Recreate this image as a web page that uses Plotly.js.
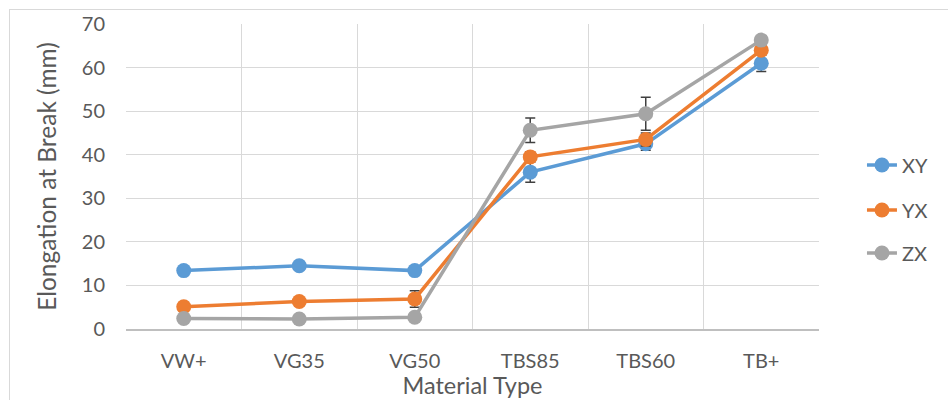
<!DOCTYPE html>
<html>
<head>
<meta charset="utf-8">
<script src="https://cdn.plot.ly/plotly-3.0.1.min.js"></script>
<style>
html,body{margin:0;padding:0;background:#fff;}
#wrap{position:relative;width:948px;height:400px;overflow:hidden;}
#chart{position:absolute;left:0;top:0;width:948px;height:400px;}
#frame{position:absolute;left:9px;top:9px;width:1000px;height:1000px;border:1px solid #d9d9d9;pointer-events:none;}
</style>
</head>
<body>
<div id="wrap"><div id="chart"></div><div id="frame"></div></div>
<script>
const categories = ["VW+", "VG35", "VG50", "TBS85", "TBS60", "TB+"];
const seriesNames = ["XY", "YX", "ZX"];
const xyValues = [13.4, 14.5, 13.4, 36.0, 42.5, 61.0];
const yxValues = [5.1, 6.3, 6.9, 39.5, 43.5, 64.0];
const zxValues = [2.4, 2.3, 2.7, 45.6, 49.4, 66.3];
const xyErrors = [0.8, 0.7, 0.9, 2.3, 1.5, 1.9];
const yxErrors = [1.0, 0.9, 1.9, 1.2, 1.5, 1.2];
const zxErrors = [0.5, 0.6, 0.8, 2.8, 3.8, 1.0];
const colors = ["#5B9BD5", "#ED7D31", "#A5A5A5"];

const vals = [xyValues, yxValues, zxValues];
const errs = [xyErrors, yxErrors, zxErrors];
const legendIds = ["legend", "legend2", "legend3"];

const traces = seriesNames.map((n, i) => ({
  type: "scatter",
  mode: "lines+markers",
  name: n,
  x: categories,
  y: vals[i],
  legend: legendIds[i],
  line: {color: colors[i], width: 3.5},
  marker: {color: colors[i], size: 15},
  error_y: {type: "data", array: errs[i], visible: true, color: "#404040", thickness: 1.5, width: 5}
}));

const textColor = "#595959";
const fontFam = "Lato, 'Open Sans', sans-serif";
const legendBase = {
  x: 1.062, xanchor: "left", yanchor: "middle",
  font: {family: fontFam, size: 20, color: textColor},
  bgcolor: "rgba(0,0,0,0)", borderwidth: 0
};
const yToPaper = px => (329 - px) / 305;

const layout = {
  width: 948, height: 400,
  margin: {l: 126, r: 129, t: 24, b: 71},
  paper_bgcolor: "rgba(0,0,0,0)",
  plot_bgcolor: "#ffffff",
  font: {family: fontFam, color: textColor},
  showlegend: true,
  legend: Object.assign({}, legendBase, {y: yToPaper(165)}),
  legend2: Object.assign({}, legendBase, {y: yToPaper(210)}),
  legend3: Object.assign({}, legendBase, {y: yToPaper(253)}),
  xaxis: {
    type: "category",
    categoryorder: "array",
    categoryarray: categories,
    range: [-0.5, 5.5],
    tickson: "boundaries",
    showgrid: true,
    gridcolor: "#d9d9d9",
    gridwidth: 1,
    showline: true,
    linecolor: "#bfbfbf",
    linewidth: 1.5,
    ticks: "",
    ticklabelstandoff: 13,
    tickfont: {family: fontFam, size: 20, color: textColor},
    title: {text: "Material Type", font: {family: fontFam, size: 23.5, color: textColor}, standoff: 3},
    zeroline: false,
    fixedrange: true
  },
  yaxis: {
    range: [0, 70],
    dtick: 10,
    tick0: 0,
    showgrid: true,
    gridcolor: "#d9d9d9",
    gridwidth: 1,
    zeroline: false,
    showline: false,
    ticks: "",
    ticklabelstandoff: 20,
    tickfont: {family: fontFam, size: 20, color: textColor},
    title: {text: "Elongation at Break (mm)", font: {family: fontFam, size: 24.5, color: textColor}, standoff: 18},
    fixedrange: true
  }
};

Plotly.newPlot("chart", traces, layout, {displayModeBar: false, staticPlot: true});
</script>
</body>
</html>
